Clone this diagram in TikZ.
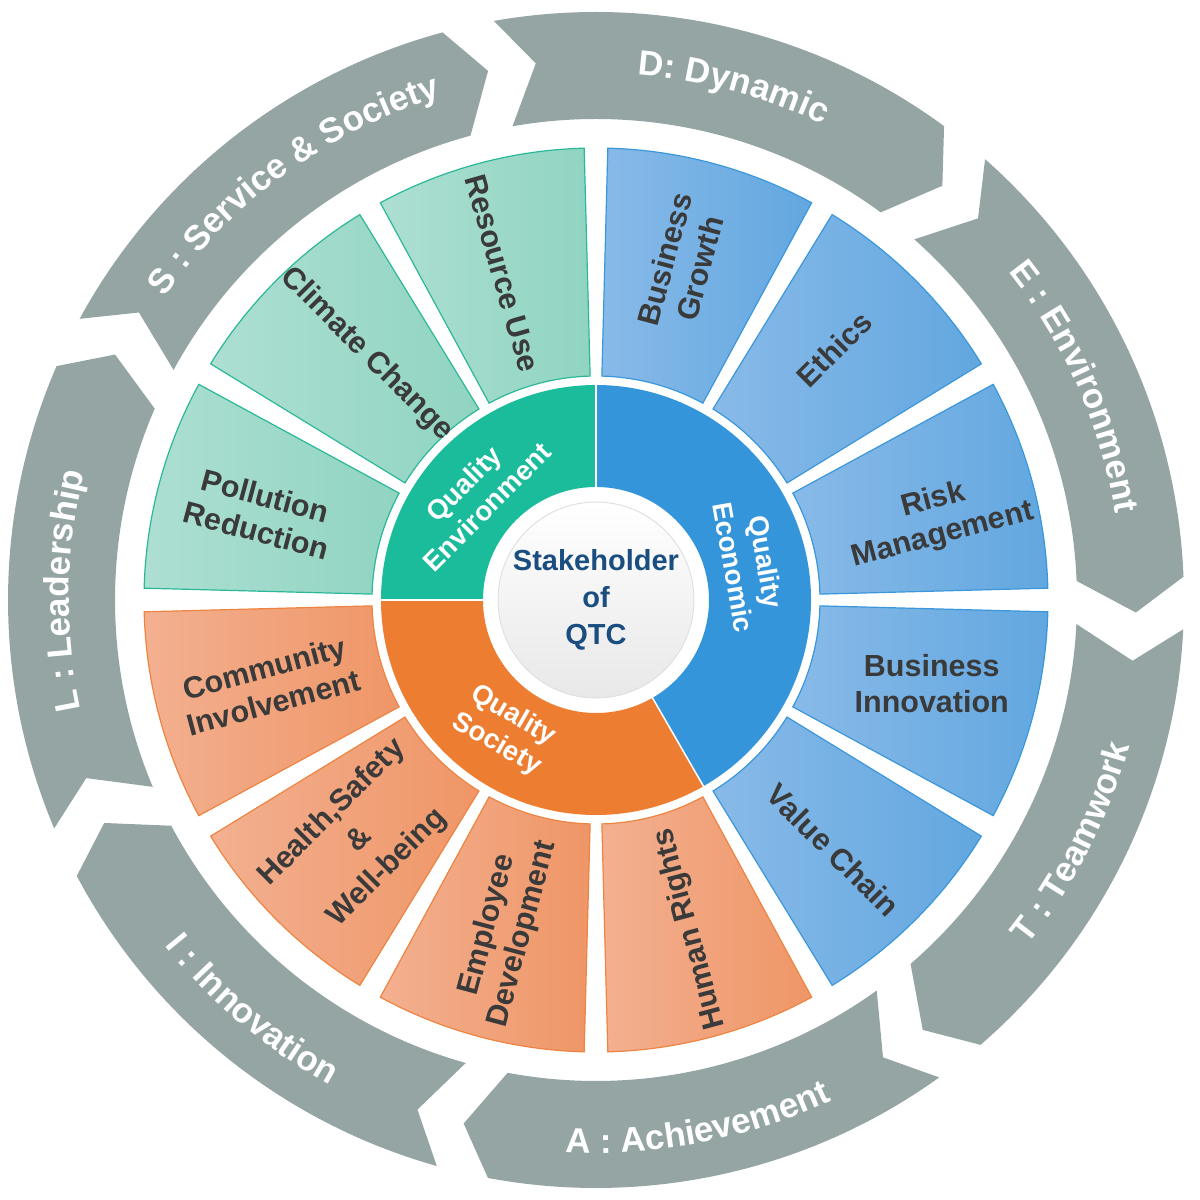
\documentclass[tikz,border=0pt]{standalone}
\usepackage{fontspec}
\setmainfont{Liberation Sans}
\usetikzlibrary{decorations.text}
\definecolor{grayarrow}{HTML}{95A5A4}
\definecolor{Rteal}{HTML}{1ABC9C}
\definecolor{Rblue}{HTML}{3595DB}
\definecolor{Rorange}{HTML}{ED7D31}
\definecolor{Lteal}{HTML}{ADDFD2}
\definecolor{Dteal}{HTML}{90D4C1}
\definecolor{Bteal}{HTML}{2AB899}
\definecolor{Lblue}{HTML}{88BAE8}
\definecolor{Dblue}{HTML}{62A7E0}
\definecolor{Bblue}{HTML}{3A97DB}
\definecolor{Lorange}{HTML}{F3B090}
\definecolor{Dorange}{HTML}{EF9667}
\definecolor{Borange}{HTML}{EE8441}
\definecolor{labtxt}{HTML}{3A3A3A}
\definecolor{navy}{HTML}{1A4E80}
\newcommand\glfont{\fontsize{35}{40}\selectfont\bfseries}
\tikzset{
  seglab/.style={font=\fontsize{30.5}{36}\selectfont\bfseries, text=labtxt, align=center, inner sep=0},
  ringlab/.style={font=\fontsize{27.5}{33}\selectfont\bfseries, text=white, align=center, inner sep=0},
  cwlab/.style={decorate, decoration={text along path, text align=center, text color=white}},
}
\begin{document}
\begin{tikzpicture}[x=1pt,y=1pt]
\useasboundingbox (-596,-600) rectangle (604,600);
% outer gray chevron arrows
\foreach \t in {100,48.57,-2.86,-54.29,-105.71,-157.14,-208.57}{
  \pgfmathsetmacro\h{\t-46.3}
  \pgfmathsetmacro\tn{\t-3.6}
  \pgfmathsetmacro\hn{\h-3.6}
  \fill[grayarrow] (\t:588) arc[start angle=\t, end angle=\h, radius=588]
    -- (\hn:540) -- (\h:481) arc[start angle=\h, end angle=\t, radius=481]
    -- (\tn:540) -- cycle;
}
% outer segments
\foreach \b/\c in {90/teal,120/teal,150/teal,180/orange,210/orange,240/orange,270/orange,300/blue,330/blue,0/blue,30/blue,60/blue}{
  \pgfmathsetmacro\sa{\b+1.5}
  \pgfmathsetmacro\ea{\b+28.5}
  \path[draw=B\c, line width=1.2, left color=L\c, right color=D\c]
    (\sa:224) -- (\sa:452) arc[start angle=\sa, end angle=\ea, radius=452]
    -- (\ea:224) arc[start angle=\ea, end angle=\sa, radius=224] -- cycle;
}
% inner ring
\fill[Rteal] (90:113) -- (90:215) arc[start angle=90, end angle=180, radius=215] -- (180:113) arc[start angle=180, end angle=90, radius=113] -- cycle;
\fill[Rorange] (180:113) -- (180:215) arc[start angle=180, end angle=300, radius=215] -- (300:113) arc[start angle=300, end angle=180, radius=113] -- cycle;
\fill[Rblue] (300:113) -- (300:215) arc[start angle=300, end angle=450, radius=215] -- (450:113) arc[start angle=450, end angle=300, radius=113] -- cycle;
\foreach \a in {90,180,300} \draw[white, line width=1.5] (\a:112) -- (\a:216);
% center disk
\shade[top color=white, bottom color=black!9] (0,0) circle[radius=98];
\draw[black!12, line width=1] (0,0) circle[radius=98];
\node[font=\fontsize{29}{37}\selectfont\bfseries, text=navy, align=center] (ctr) at (0,0) {Stakeholder\\of\\QTC};
% ring labels
\node[ringlab, rotate=45] (qenv) at (139:160) {Quality\\Environment};
\node[ringlab, rotate=-80] (qeco) at (13:158) {Quality\\Economic};
\node[ringlab, rotate=-30] (qsoc) at (235:159) {Quality\\Society};
% segment labels
\node[seglab, rotate=-74] (ru) at (106:340) {Resource Use};
\node[seglab, rotate=-45] (cc) at (133:336) {Climate Change};
\node[seglab, rotate=-15] (pr) at (165.5:346) {Pollution\\Reduction};
\node[seglab, rotate=15] (ci) at (194.6:338) {Community\\Involvement};
\node[seglab, rotate=45, font=\fontsize{30.5}{39}\selectfont\bfseries] (hs) at (225.5:337) {Health,Safety\\\&\\Well-being};
\node[seglab, rotate=75] (ed) at (254.6:342) {Employee\\Development};
\node[seglab, rotate=105] (hr) at (286:342) {Human Rights};
\node[seglab, rotate=-45] (vc) at (313.5:345) {Value Chain};
\node[seglab] (bi) at (346:346) {Business\\Innovation};
\node[seglab, rotate=15] (rm) at (13.5:352) {Risk\\Management};
\node[seglab, rotate=45] (et) at (46.5:346) {Ethics};
\node[seglab, rotate=75] (bg) at (75.6:347) {Business\\Growth};
% gray arrow labels
\path[cwlab, decoration={text={|\glfont|S : Service {\&} Society}}] (156:527) arc[start angle=156, end angle=96, radius=527];
\path[cwlab, decoration={text={|\glfont|D: Dynamic}}] (105:527) arc[start angle=105, end angle=45, radius=527];
\path[cwlab, decoration={text={|\glfont|E : Environment}}] (54:527) arc[start angle=54, end angle=-6, radius=527];
\path[cwlab, decoration={text={|\glfont|L : Leadership}}] (209:527) arc[start angle=209, end angle=149, radius=527];
\path[cwlab, decoration={text={|\glfont|T : Teamwork}}] (-57:553) arc[start angle=-57, end angle=3, radius=553];
\path[cwlab, decoration={text={|\glfont|A : Achievement}}] (-109:553) arc[start angle=-109, end angle=-49, radius=553];
\path[cwlab, decoration={text={|\glfont|I : Innovation}}] (-160:553) arc[start angle=-160, end angle=-100, radius=553];
\end{tikzpicture}
\end{document}
